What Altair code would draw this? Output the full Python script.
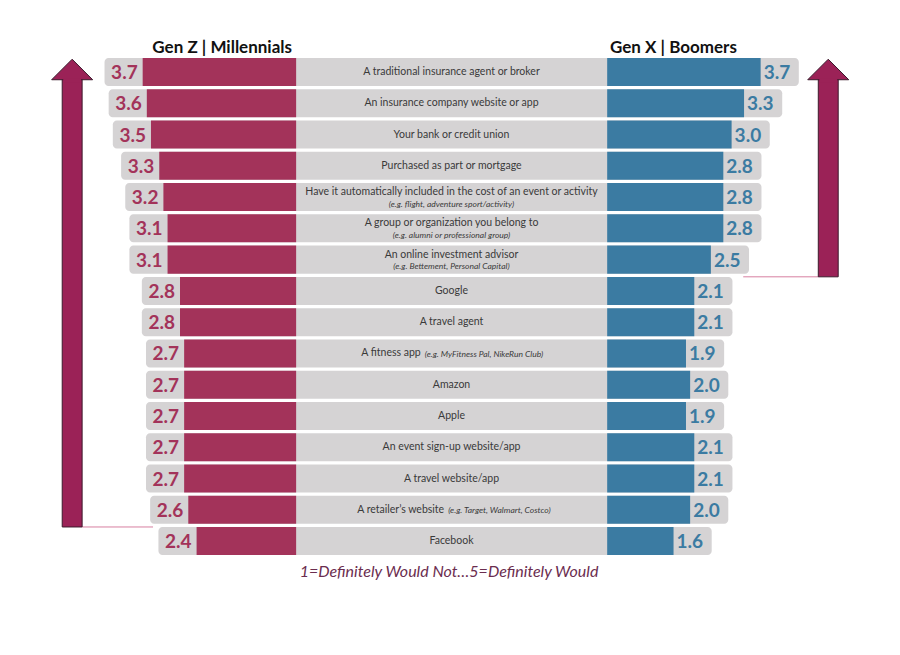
import altair as alt
import pandas as pd

# ---------------- data ----------------
categories = [
    "A traditional insurance agent or broker",
    "An insurance company website or app",
    "Your bank or credit union",
    "Purchased as part or mortgage",
    "Have it automatically included in the cost of an event or activity",
    "A group or organization you belong to",
    "An online investment advisor",
    "Google",
    "A travel agent",
    "A fitness app",
    "Amazon",
    "Apple",
    "An event sign-up website/app",
    "A travel website/app",
    "A retailer\u2019s website",
    "Facebook",
]
notes_below = [
    "", "", "", "",
    "(e.g. flight, adventure sport/activity)",
    "(e.g. alumni or professional group)",
    "(e.g. Bettement, Personal Capital)",
    "", "", "", "", "", "", "", "", "",
]
notes_inline = [
    "", "", "", "", "", "", "", "", "",
    "(e.g. MyFitness Pal, NikeRun Club)",
    "", "", "", "",
    "(e.g. Target, Walmart, Costco)",
    "",
]
genz_millennials = [3.7, 3.6, 3.5, 3.3, 3.2, 3.1, 3.1, 2.8, 2.8, 2.7, 2.7, 2.7, 2.7, 2.7, 2.6, 2.4]
genx_boomers = [3.7, 3.3, 3.0, 2.8, 2.8, 2.8, 2.5, 2.1, 2.1, 1.9, 2.0, 1.9, 2.1, 2.1, 2.0, 1.6]

left_title = "Gen Z | Millennials"
right_title = "Gen X | Boomers"
footer = "1=Definitely Would Not\u20265=Definitely Would"

rows = pd.DataFrame({
    "row": list(range(len(categories))),
    "category": categories,
    "note_below": notes_below,
    "note_inline": notes_inline,
    "left": genz_millennials,
    "right": genx_boomers,
})

# arrows: which rows each bracket covers, and side
arrows = pd.DataFrame({"side": [-1, 1], "last_row": [14, 6]})

# ---------------- style ----------------
RED = "#a3335a"
BLUE = "#3b7ba2"
GRAY = "#d5d3d4"
ARROW = "#9b2257"
ARROW_EDGE = "#3b1a2c"
FONT = "Lato"
TXT = "#3a3a3a"
MAIN_SIZE = 10.5
NOTE_SIZE = 8.5

xs = alt.Scale(domain=[-10.89, 10.81], nice=False, zero=False)
ys = alt.Scale(domain=[-2.3025, 18.644], reverse=True, nice=False, zero=False)

base = alt.Chart(rows).transform_calculate(
    y0="datum.row - 0.448",
    y1="datum.row + 0.448",
    cl="-3.75",
    cr="3.75",
    lx="-(3.75 + datum.left)",
    rx="3.75 + datum.right",
    bg0="-(3.75 + datum.left + 0.92)",
    bg1="3.75 + datum.right + 0.92",
)

X = lambda f: alt.X(f, type="quantitative", scale=xs, axis=None)
Y = lambda f: alt.Y(f, type="quantitative", scale=ys, axis=None)

bg = base.mark_rect(color=GRAY, cornerRadius=4).encode(
    x=X("bg0"), x2="bg1:Q", y=Y("y0"), y2="y1:Q")
red = base.mark_rect(color=RED).encode(
    x=X("lx"), x2="cl:Q", y=Y("y0"), y2="y1:Q")
blue = base.mark_rect(color=BLUE).encode(
    x=X("cr"), x2="rx:Q", y=Y("y0"), y2="y1:Q")

lab_l = base.mark_text(align="right", baseline="middle", dx=-5, dy=1, font=FONT,
                       fontWeight="bold", fontSize=19, color=RED).encode(
    x=X("lx"), y=Y("row"), text=alt.Text("left:Q", format=".1f"))
lab_r = base.mark_text(align="left", baseline="middle", dx=3, dy=1, font=FONT,
                       fontWeight="bold", fontSize=19, color=BLUE).encode(
    x=X("rx"), y=Y("row"), text=alt.Text("right:Q", format=".1f"))

single = base.transform_filter("datum.note_below == '' && datum.note_inline == ''").mark_text(
    align="center", baseline="middle", font=FONT, fontSize=MAIN_SIZE, color=TXT).encode(
    x=alt.value(451.5), y=Y("row"), text="category:N")
two_main = base.transform_filter("datum.note_below != ''").mark_text(
    align="center", baseline="middle", dy=-5, font=FONT, fontSize=MAIN_SIZE, color=TXT).encode(
    x=alt.value(451.5), y=Y("row"), text="category:N")
two_note = base.transform_filter("datum.note_below != ''").mark_text(
    align="center", baseline="middle", dy=6.5, font=FONT, fontSize=NOTE_SIZE, fontStyle="italic",
    color=TXT).encode(
    x=alt.value(451.5), y=Y("row"), text="note_below:N")

inline = base.transform_filter("datum.note_inline != ''").transform_calculate(
    split="(length(datum.category) * 4.7 - length(datum.note_inline) * 3.5) / 2 / 41.47"
)
in_main = inline.mark_text(align="right", baseline="middle", dx=-2, font=FONT,
                           fontSize=MAIN_SIZE, color=TXT).encode(
    x=X("split"), y=Y("row"), text="category:N")
in_note = inline.mark_text(align="left", baseline="middle", dx=2, dy=0.5, font=FONT,
                           fontSize=NOTE_SIZE, fontStyle="italic", color=TXT).encode(
    x=X("split"), y=Y("row"), text="note_inline:N")

# ---------------- arrows ----------------
arr = alt.Chart(arrows).transform_calculate(
    c="datum.side < 0 ? -9.15 : 9.08",
    s0="datum.c - 0.24",
    s1="datum.c + 0.24",
    k0="datum.c - 0.215",
    k1="datum.c + 0.215",
    top="0.2",
    bot="datum.last_row + 0.55",
    ctop="0.22",
    cbot="0.33",
    head="-0.08",
    lstart="datum.side < 0 ? datum.c + 0.24 : datum.c - 0.24",
    lend="datum.side < 0 ? -7.2 : 7.03",
)
connector = arr.mark_rule(color="#d77fa0", strokeWidth=1).encode(
    x=X("lstart"), x2="lend:Q", y=Y("bot"))
shaft = arr.mark_rect(fill=ARROW, stroke=ARROW_EDGE, strokeWidth=1).encode(
    x=X("s0"), x2="s1:Q", y=Y("top"), y2="bot:Q")
head = arr.mark_point(shape="M -1 0.5 L 0 -0.5 L 1 0.5 Z", size=1681, filled=True,
                      fill=ARROW, stroke=ARROW_EDGE, strokeWidth=1, opacity=1).encode(
    x=X("c"), y=Y("head"))
cover = arr.mark_rect(fill=ARROW, strokeWidth=0).encode(
    x=X("k0"), x2="k1:Q", y=Y("ctop"), y2="cbot:Q")

# ---------------- titles / footer ----------------
t_left = alt.Chart(pd.DataFrame({"t": [left_title]})).mark_text(
    align="right", baseline="middle", font=FONT, fontWeight="bold", fontSize=17,
    color="#111111").encode(x=alt.value(292), y=alt.value(48), text="t:N")
t_right = alt.Chart(pd.DataFrame({"t": [right_title]})).mark_text(
    align="left", baseline="middle", font=FONT, fontWeight="bold", fontSize=17,
    color="#111111").encode(x=alt.value(610), y=alt.value(48), text="t:N")
foot = alt.Chart(pd.DataFrame({"t": [footer]})).mark_text(
    align="center", baseline="middle", font=FONT, fontStyle="italic", fontSize=16,
    color="#6b2d4f").encode(x=alt.value(449), y=alt.value(572), text="t:N")

chart = alt.layer(
    connector, shaft, head, cover,
    bg, red, blue, lab_l, lab_r,
    single, two_main, two_note, in_main, in_note,
    t_left, t_right, foot,
).properties(
    width=900, height=655, padding=0, autosize="none", background="white"
).configure_view(strokeWidth=0)

chart.save("out.html", embed_options={"renderer": "svg", "actions": False})
